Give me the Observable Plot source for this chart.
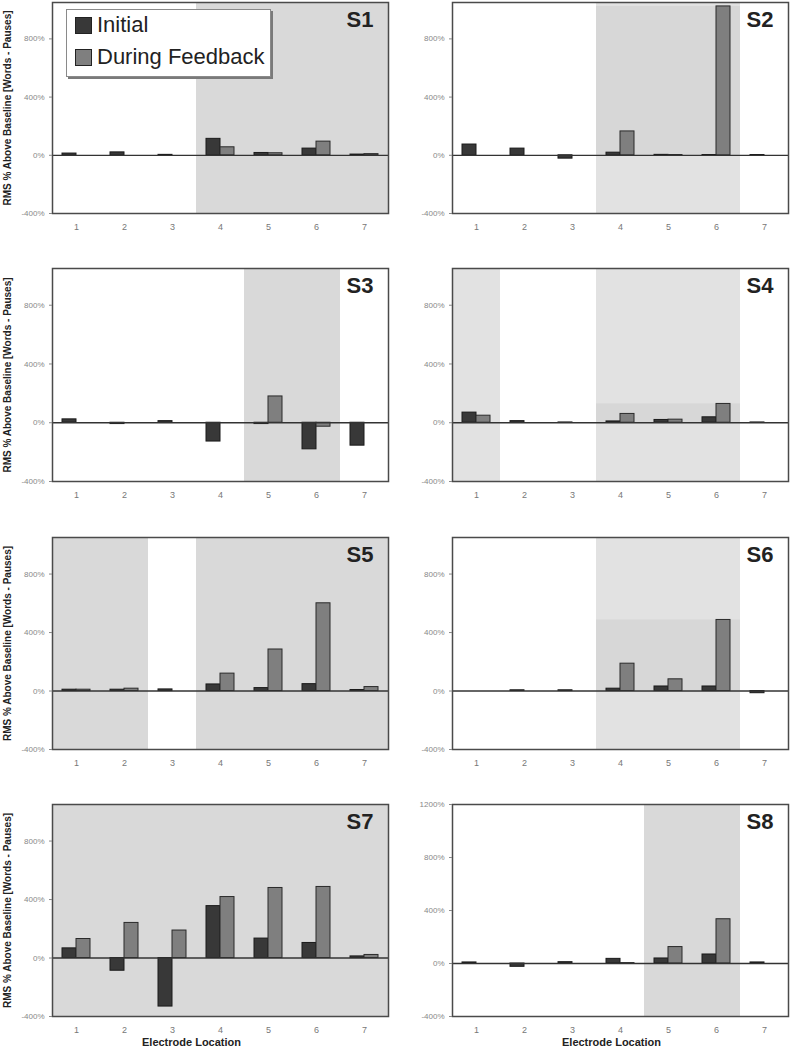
<!DOCTYPE html>
<html>
<head>
<meta charset="utf-8">
<script src="https://cdn.jsdelivr.net/npm/d3@7"></script>
<script src="https://cdn.jsdelivr.net/npm/@observablehq/plot@0.6"></script>
<style>
  body { margin: 0; background: #fff; font-family: "Liberation Sans", Arial, sans-serif; }
  #wrap { position: relative; width: 790px; height: 1050px; overflow: hidden; background: #fff; }
  .panel { position: absolute; }
  .panel svg { display: block; }
  #legend { position: absolute; left: 66px; top: 9px; width: 203px; height: 66px; background: #fff;
            border: 1px solid #8a8a8a; box-shadow: 2px 2px 0 #7a7a7a; }
  .item { position: absolute; left: 30px; font-size: 22px; line-height: 22px; color: #222; white-space: nowrap; }
  .sw { position: absolute; left: 8px; width: 15px; height: 15px; border: 1px solid #222; }
</style>
</head>
<body>
<div id="wrap"></div>
<script>
// ---- data ----
const electrodes = [1, 2, 3, 4, 5, 6, 7];
const seriesNames = ["Initial", "During Feedback"];
const subjects = ["S1", "S2", "S3", "S4", "S5", "S6", "S7", "S8"];

const s1Initial  = [12, 20, 3, 113, 16, 46, 5];
const s1Feedback = [0, 0, 0, 55, 14, 94, 8];
const s2Initial  = [74, 46, -23, 18, 3, 2, 2];
const s2Feedback = [0, 0, 0, 164, 2, 1023, 0];
const s3Initial  = [23, -9, 11, -128, -9, -181, -156];
const s3Feedback = [0, 0, 0, 0, 179, -27, 0];
const s4Initial  = [69, 11, 2, 9, 19, 37, 2];
const s4Feedback = [48, 0, 0, 60, 21, 128, 0];
const s5Initial  = [9, 9, 11, 45, 20, 47, 7];
const s5Feedback = [9, 16, 0, 119, 284, 600, 27];
const s6Initial  = [0, 5, 5, 16, 31, 31, -15];
const s6Feedback = [0, 0, 0, 187, 80, 486, 0];
const s7Initial  = [66, -87, -332, 355, 133, 103, 11];
const s7Feedback = [130, 240, 188, 417, 479, 486, 21];
const s8Initial  = [8, -25, 10, 35, 38, 68, 8];
const s8Feedback = [0, 0, 0, 3, 124, 334, 0];

// shaded electrode regions per subject
const s1Shaded = [4, 5, 6, 7];
const s2Shaded = [4, 5, 6];
const s3Shaded = [5, 6];
const s4Shaded = [1, 4, 5, 6];
const s5Shaded = [1, 2, 4, 5, 6, 7];
const s6Shaded = [4, 5, 6];
const s7Shaded = [1, 2, 3, 4, 5, 6, 7];
const s8Shaded = [5, 6];
// slightly darker inner shading (from 0 up to the tallest bar) seen in some panels
const s2Inner = [4, 5, 6];
const s4Inner = [4, 5, 6];
const s6Inner = [4, 5, 6];

const yTicks = [-400, 0, 400, 800];
const s8YTicks = [-400, 0, 400, 800, 1200];
const yDomain = [-400, 1050];
const s8YDomain = [-400, 1200];

const yLabel = "RMS % Above Baseline [Words - Pauses]";
const xLabel = "Electrode Location";

// ---- assembly ----
const initials = [s1Initial, s2Initial, s3Initial, s4Initial, s5Initial, s6Initial, s7Initial, s8Initial];
const feedbacks = [s1Feedback, s2Feedback, s3Feedback, s4Feedback, s5Feedback, s6Feedback, s7Feedback, s8Feedback];
const shadeds = [s1Shaded, s2Shaded, s3Shaded, s4Shaded, s5Shaded, s6Shaded, s7Shaded, s8Shaded];
const inners = [null, s2Inner, null, s4Inner, null, s6Inner, null, null];

const rows = [
  {top: 0,   h: 260, mt: 2,  mb: 47},
  {top: 260, h: 260, mt: 8,  mb: 39},
  {top: 520, h: 260, mt: 17, mb: 31},
  {top: 780, h: 270, mt: 24, mb: 34}
];

const wrap = document.getElementById("wrap");
const font = "Liberation Sans, Arial, sans-serif";

subjects.forEach((name, i) => {
  const col = i % 2, row = Math.floor(i / 2);
  const r = rows[row];
  const initial = electrodes.map((e, j) => ({e, s: seriesNames[0], v: initials[i][j]}));
  const feedback = electrodes.map((e, j) => ({e, s: seriesNames[1], v: feedbacks[i][j]}));
  const inner = inners[i];
  const innerTop = inner ? d3.max(feedback.filter(d => inner.includes(d.e)), d => d.v) : 0;
  const isS8 = name === "S8";

  const marks = [
    Plot.cell(shadeds[i], {x: d => d, fill: inner ? "#e2e2e2" : "#d9d9d9", inset: 0}),
    inner ? Plot.barY(inner, {x: d => d, y1: () => 0, y2: () => innerTop, fill: "#d7d7d7", inset: 0}) : null,
    Plot.barY(initial, {x: "e", y: "v", fill: "#383838", stroke: "#1a1a1a", strokeWidth: 1, insetLeft: 10, insetRight: 24}),
    Plot.barY(feedback, {x: "e", y: "v", fill: "#7f7f7f", stroke: "#2a2a2a", strokeWidth: 1, insetLeft: 24, insetRight: 10}),
    Plot.ruleY([0], {stroke: "#333", strokeWidth: 1.3}),
    Plot.frame({stroke: "#4a4a4a", strokeWidth: 1.5}),
    Plot.axisY({ticks: isS8 ? s8YTicks : yTicks, tickFormat: d => d + "%", tickSize: 3, tickPadding: 5,
                fontSize: 8, color: "#888", label: null}),
    Plot.axisX({tickSize: 0, tickPadding: 10, fontSize: 9, color: "#777", label: null}),
    Plot.text([name], {frameAnchor: "top-right", dx: -15, dy: 9, lineAnchor: "top", textAnchor: "end",
                       fontSize: 22, fontWeight: "bold", fill: "#222"})
  ];
  if (col === 0) {
    marks.push(Plot.text([yLabel], {frameAnchor: "left", dx: -45, rotate: -90, textAnchor: "middle",
                                    lineAnchor: "middle", fontSize: 10, fontWeight: "bold", fill: "#222"}));
  }
  if (row === 3) {
    marks.push(Plot.text([xLabel], {frameAnchor: "bottom", dy: 29, dx: col ? -9 : -29, textAnchor: "middle",
                                    fontSize: 11, fontWeight: "bold", fill: "#222", letterSpacing: 1.5}));
  }

  const chart = Plot.plot({
    width: 395,
    height: r.h,
    marginLeft: col ? 57 : 52,
    marginRight: col ? 2 : 7,
    marginTop: r.mt,
    marginBottom: r.mb,
    x: {type: "band", domain: electrodes, padding: 0, label: null},
    y: {domain: isS8 ? s8YDomain : yDomain, label: null},
    style: {fontFamily: font, background: "transparent", color: "#333", overflow: "visible"},
    marks
  });
  const div = document.createElement("div");
  div.className = "panel";
  div.style.left = (col ? 395 : 0) + "px";
  div.style.top = r.top + "px";
  div.appendChild(chart);
  wrap.appendChild(div);
});

// legend (in panel S1)
const legend = document.createElement("div");
legend.id = "legend";
const colors = ["#383838", "#7f7f7f"];
seriesNames.forEach((s, k) => {
  const sw = document.createElement("div");
  sw.className = "sw";
  sw.style.top = (7 + 32 * k) + "px";
  sw.style.background = colors[k];
  legend.appendChild(sw);
  const t = document.createElement("div");
  t.className = "item";
  t.style.top = (4 + 32 * k) + "px";
  t.textContent = s;
  legend.appendChild(t);
});
wrap.appendChild(legend);
</script>
</body>
</html>
